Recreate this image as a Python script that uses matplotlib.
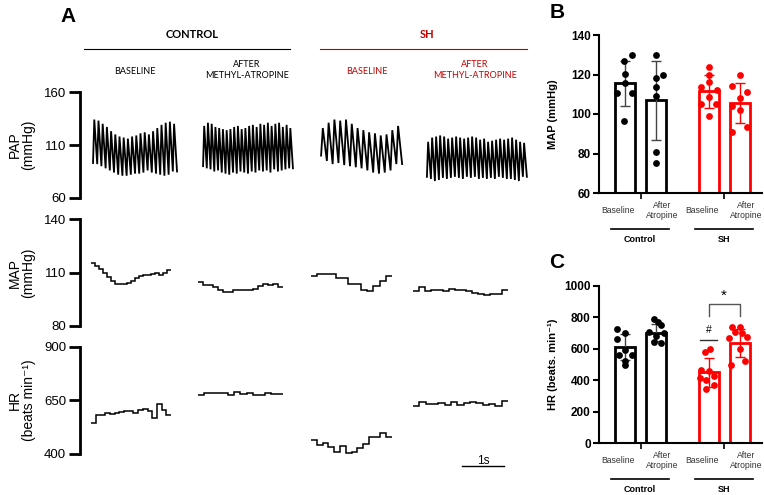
import numpy as np
import matplotlib.pyplot as plt

W, H = 764, 495
RED = '#ff0000'
DARKRED = '#c00000'
ARIAL = ['Liberation Sans', 'DejaVu Sans']

# ---------------- panel A: traces ----------------
# order: control baseline, control + atropine, SH baseline, SH + atropine
pap_peaks = [
    [134, 133, 130, 127, 123, 120, 118, 117, 116, 118, 119, 121, 122, 120, 123, 126, 129, 131, 132, 130],
    [128, 131, 130, 127, 126, 125, 124, 125, 127, 128, 125, 126, 128, 129, 127, 130, 129, 131, 128, 130, 131, 127, 129, 126],
    [126, 131, 134, 133, 134, 130, 126, 124, 122, 121, 119, 120, 124, 128],
    [113, 117, 118, 119, 118, 116, 117, 118, 117, 116, 117, 118, 117, 115, 116, 113, 114, 115, 116, 115, 116, 117, 115, 113, 112],
]
pap_troughs = [
    [93, 92, 90, 88, 86, 84, 82, 81, 81, 82, 83, 83, 84, 86, 84, 83, 82, 81, 82, 85],
    [90, 88, 87, 85, 86, 84, 83, 82, 84, 83, 85, 84, 83, 85, 84, 86, 85, 86, 84, 87, 85, 86, 87, 88],
    [100, 95, 92, 93, 91, 90, 89, 88, 86, 84, 83, 84, 86, 92],
    [80, 78, 76, 77, 79, 78, 79, 80, 79, 78, 80, 79, 80, 78, 79, 78, 79, 78, 80, 79, 78, 78, 77, 76, 80],
]
map_steps = [
    [115.5, 114, 112, 110, 107.5, 105.5, 103.5, 103.5, 103.5, 104, 105.5, 107, 108, 108.5, 108.5, 109.5, 110, 108.5, 110, 111.5],
    [104.5, 103, 103, 102, 100, 99, 99, 100, 100, 100.5, 100.5, 101, 102.5, 103.5, 103, 103.5, 102],
    [108, 109, 109, 109.5, 107, 107, 103.5, 103.5, 100, 99.5, 102.5, 105.5, 108.2],
    [99.5, 102, 99.8, 100, 100.5, 99.8, 101, 100.5, 100, 99.5, 98.5, 98.2, 97.5, 98, 98, 100.5],
]
hr_steps = [
    [545, 582, 582, 593, 587, 590, 597, 600, 600, 593, 605, 608, 600, 566, 633, 605, 582],
    [675, 684, 684, 684, 684, 675, 690, 680, 684, 676, 676, 686, 680, 680],
    [465, 442, 452, 431, 411, 437, 406, 410, 430, 447, 478, 478, 499, 481],
    [625, 640, 632, 634, 637, 630, 640, 630, 637, 642, 637, 628, 635, 622, 645],
]

# time windows (s) of each recording on the shared time axis
pap_start = [0.31, 2.93, 5.74, 8.26]
pap_end = [2.31, 5.07, 7.67, 10.64]
step_start = [0.26, 2.81, 5.50, 7.93]
step_end = [2.17, 4.83, 7.43, 10.19]

# ---------------- panels B and C ----------------
groups = ['Baseline', 'After\nAtropine', 'Baseline', 'After\nAtropine']
map_pts = [
    [130, 127, 120.5, 115.5, 110.5, 110.5, 96.5],
    [130, 120, 118, 113.5, 109, 81, 75],
    [124, 120, 116, 113.5, 112, 108.5, 105, 105, 99],
    [120, 114, 111, 108, 104, 102, 93.5, 91],
]
map_mean = [115.5, 107, 111.5, 105.5]
map_sd = [11.5, 20, 8.5, 10]
hr_pts = [
    [724, 703, 660, 592, 558, 558, 521, 496],
    [790, 770, 750, 705, 700, 680, 640, 635],
    [600, 579, 468, 458, 430, 415, 400, 370, 345],
    [740, 735, 705, 700, 675, 670, 600, 520, 500],
]
hr_mean = [610, 703, 450, 638]
hr_sd = [82, 55, 90, 88]

# horizontal scatter of the dots inside each bar
map_jit = [
    [0.24, -0.03, 0, 0, -0.25, 0.22, -0.02],
    [0, 0.24, 0, 0, 0, 0, 0],
    [0, 0, 0, -0.26, 0.26, 0, -0.26, 0.23, 0],
    [0, -0.26, 0.24, 0, -0.26, 0, 0.24, -0.24],
]
hr_jit = [
    [-0.25, 0, -0.25, 0, 0.22, -0.2, 0, 0],
    [-0.06, 0.07, 0.15, -0.23, 0.26, 0, -0.06, 0.15],
    [0.05, -0.13, -0.24, 0, 0.16, -0.29, -0.09, 0.16, -0.1],
    [0.02, -0.25, -0.14, 0.07, 0.24, -0.35, 0.02, 0.18, -0.27],
]


def fx(px):
    return px / W


def fy(py):
    return 1 - py / H


fig = plt.figure(figsize=(W / 100, H / 100), dpi=100)

# ======== panel A ========
rows = [
    ('PAP\n(mmHg)', 92, 198, (60, 160), [60, 110, 160]),
    ('MAP\n(mmHg)', 219.3, 326, (80, 140), [80, 110, 140]),
    ('HR\n(beats min⁻¹)', 346.7, 454, (400, 900), [400, 650, 900]),
]
tmax = 460 / 42
axes_a = []
for label, top, bot, ylim, ticks in rows:
    ax = fig.add_axes([fx(80), fy(bot), (540 - 80) / W, (bot - top) / H])
    ax.set_xlim(0, tmax)
    ax.set_ylim(*ylim)
    ax.set_yticks(ticks)
    ax.set_xticks([])
    for s in ['top', 'right', 'bottom']:
        ax.spines[s].set_visible(False)
    ax.spines['left'].set_linewidth(2)
    ax.tick_params(axis='y', direction='out', length=8, width=2, labelsize=9.5, pad=2)
    for t in ax.get_yticklabels():
        t.set_family(ARIAL)
    ax.set_ylabel(label, fontsize=10, family=ARIAL, linespacing=1.0, va='center')
    ax.yaxis.set_label_coords(-0.127, 0.5)
    ax.patch.set_alpha(0)
    axes_a.append(ax)

ax_pap, ax_map, ax_hr = axes_a

for k in range(4):
    pk, tr = pap_peaks[k], pap_troughs[k]
    n = len(pk)
    T = (pap_end[k] - pap_start[k]) / n
    xs, ys = [], []
    for i in range(n):
        t0 = pap_start[k] + i * T
        xs += [t0, t0 + 0.3 * T]
        ys += [tr[i], pk[i]]
    xs.append(pap_end[k])
    ys.append(tr[-1])
    ax_pap.plot(xs, ys, color='black', lw=1.3, solid_joinstyle='miter')

    for ax, vals, in ((ax_map, map_steps[k]), (ax_hr, hr_steps[k])):
        edges = np.linspace(step_start[k], step_end[k], len(vals) + 1)
        ax.stairs(vals, edges, baseline=None, color='black', lw=1.1)

# 1 s scale bar
ax_hr.plot([9.1, 10.1], [344, 344], color='black', lw=1, clip_on=False)
ax_hr.text(9.6, 367, '1s', ha='center', va='center', fontsize=8.5, family=ARIAL)

# headers of panel A
HDR = ['Lato', 'DejaVu Sans']
fig.text(fx(68), fy(16), 'A', fontsize=15, fontweight='bold', family=ARIAL, ha='center', va='center')
fig.text(fx(192), fy(35), 'CONTROL', fontsize=8, fontweight='bold', family=HDR, ha='center', va='center')
fig.text(fx(427), fy(35), 'SH', fontsize=8, fontweight='bold', family=HDR, ha='center', va='center', color=DARKRED)
fig.add_artist(plt.Line2D([fx(84), fx(290)], [fy(49), fy(49)], color='black', lw=0.8))
fig.add_artist(plt.Line2D([fx(320), fx(527)], [fy(49), fy(49)], color=DARKRED, lw=0.8))
sub = [('BASELINE', 135, 'black'), ('AFTER\nMETHYL-ATROPINE', 247, 'black'),
       ('BASELINE', 367, DARKRED), ('AFTER\nMETHYL-ATROPINE', 475, DARKRED)]
for txt, x, c in sub:
    yy = 71 if txt == 'BASELINE' else 70
    fig.text(fx(x), fy(yy), txt, fontsize=6.5, family=HDR, ha='center', va='center',
             color=c, linespacing=1.35)

# ======== panels B and C ========
xpos = np.array([0, 1, 2.7, 3.7])
bar_cols = ['black', 'black', RED, RED]
err_cols = ['#444444', '#444444', RED, RED]


def bar_panel(top, bot, ylim, yticks, ylabel, means, sds, pts, jit):
    ax = fig.add_axes([fx(599), fy(bot), (762 - 599) / W, (bot - top) / H])
    ax.set_xlim(-0.84, 4.42)
    ax.set_ylim(*ylim)
    ax.bar(xpos, means, width=0.645, facecolor='white', edgecolor=bar_cols, linewidth=2, zorder=2)
    for i in range(4):
        ax.errorbar(xpos[i], means[i], yerr=sds[i], fmt='none', ecolor=err_cols[i],
                    elinewidth=1, capsize=3.5, capthick=1, zorder=3)
        ax.scatter(xpos[i] + np.array(jit[i]), pts[i], s=24, color=bar_cols[i],
                   zorder=4, clip_on=False, linewidths=0)
    for s in ['top', 'right']:
        ax.spines[s].set_visible(False)
    ax.spines['left'].set_linewidth(1.5)
    ax.spines['bottom'].set_linewidth(1.5)
    ax.set_yticks(yticks)
    ax.tick_params(axis='y', length=4, width=1.5, labelsize=8.5, pad=2)
    for t in ax.get_yticklabels():
        t.set_family(ARIAL)
        t.set_fontweight('bold')
    ax.set_xticks([0.5, 3.2])
    ax.set_xticklabels([])
    ax.tick_params(axis='x', length=4, width=1.2)
    ax.set_ylabel(ylabel, fontsize=8, fontweight='bold', family=ARIAL, va='center')
    ax.yaxis.set_label_coords(-0.28, 0.5)
    trans = ax.get_xaxis_transform()
    for i, lab in enumerate(groups):
        lx = xpos[i] + (-0.22 if i % 2 == 0 else 0.2)
        ax.text(lx, -0.11, lab, transform=trans, ha='center', va='center', fontsize=6.2,
                family=ARIAL, color='#333333', linespacing=1.15)
    for g, name in enumerate(['Control', 'SH']):
        a, b = xpos[2 * g] - 0.45, xpos[2 * g + 1] + 0.42
        ax.plot([a, b], [-0.228, -0.228], transform=trans, color='black', lw=1.2, clip_on=False)
        ax.text((a + b) / 2, -0.295, name, transform=trans, ha='center', va='center',
                fontsize=6.5, fontweight='bold', family=ARIAL)
    return ax


ax_b = bar_panel(35, 193, (60, 140), [60, 80, 100, 120, 140], 'MAP (mmHg)',
                 map_mean, map_sd, map_pts, map_jit)
ax_c = bar_panel(285.7, 443.3, (0, 1000), [0, 200, 400, 600, 800, 1000], 'HR (beats. min⁻¹)',
                 hr_mean, hr_sd, hr_pts, hr_jit)

# significance marks in C
ax_c.plot([xpos[2] - 0.27, xpos[2] + 0.27], [655, 655], color='#333333', lw=1, clip_on=False)
ax_c.text(xpos[2], 720, '#', ha='center', va='center', fontsize=7.5, family=ARIAL)
ax_c.plot([xpos[2], xpos[2], xpos[3], xpos[3]], [808, 884, 884, 808], color='#555555', lw=1, clip_on=False)
ax_c.text((xpos[2] + xpos[3]) / 2, 935, '*', ha='center', va='center', fontsize=11, family=ARIAL)

fig.text(fx(557), fy(12), 'B', fontsize=15, fontweight='bold', family=ARIAL, ha='center', va='center')
fig.text(fx(557), fy(262), 'C', fontsize=15, fontweight='bold', family=ARIAL, ha='center', va='center')

fig.savefig('out.png', dpi=100)
